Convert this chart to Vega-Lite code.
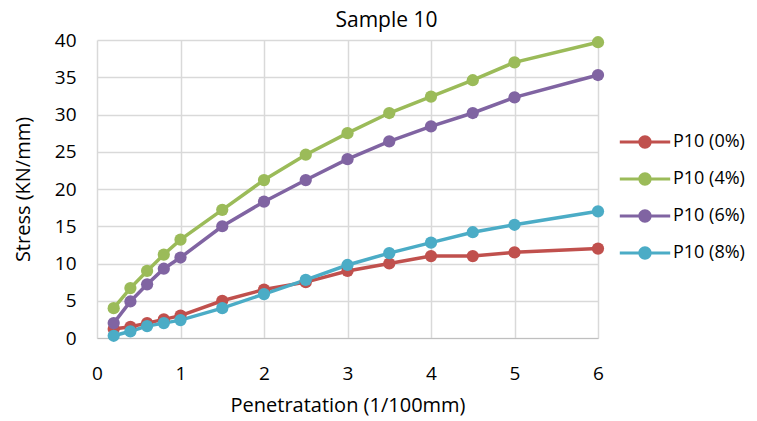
{
  "$schema": "https://vega.github.io/schema/vega-lite/v6.json",
  "width": 501,
  "height": 298,
  "autosize": {"type": "none"},
  "padding": {"left": 97, "top": 40, "right": 159, "bottom": 83},
  "background": "white",
  "title": {"text": "Sample 10", "anchor": "middle", "dx": 39, "offset": 0, "fontSize": 21, "font": "Open Sans", "fontWeight": "normal", "color": "#000000"},
  "data": {"values": [
    {"s": "P10 (0%)", "x": 0.2, "y": 1.2}, {"s": "P10 (0%)", "x": 0.4, "y": 1.5}, {"s": "P10 (0%)", "x": 0.6, "y": 2.0}, {"s": "P10 (0%)", "x": 0.8, "y": 2.5}, {"s": "P10 (0%)", "x": 1, "y": 3.0}, {"s": "P10 (0%)", "x": 1.5, "y": 5.0}, {"s": "P10 (0%)", "x": 2, "y": 6.5}, {"s": "P10 (0%)", "x": 2.5, "y": 7.5}, {"s": "P10 (0%)", "x": 3, "y": 9.0}, {"s": "P10 (0%)", "x": 3.5, "y": 10.0}, {"s": "P10 (0%)", "x": 4, "y": 11.0}, {"s": "P10 (0%)", "x": 4.5, "y": 11.0}, {"s": "P10 (0%)", "x": 5, "y": 11.5}, {"s": "P10 (0%)", "x": 6, "y": 12.0},
    {"s": "P10 (4%)", "x": 0.2, "y": 4.0}, {"s": "P10 (4%)", "x": 0.4, "y": 6.7}, {"s": "P10 (4%)", "x": 0.6, "y": 9.0}, {"s": "P10 (4%)", "x": 0.8, "y": 11.2}, {"s": "P10 (4%)", "x": 1, "y": 13.2}, {"s": "P10 (4%)", "x": 1.5, "y": 17.2}, {"s": "P10 (4%)", "x": 2, "y": 21.2}, {"s": "P10 (4%)", "x": 2.5, "y": 24.6}, {"s": "P10 (4%)", "x": 3, "y": 27.5}, {"s": "P10 (4%)", "x": 3.5, "y": 30.2}, {"s": "P10 (4%)", "x": 4, "y": 32.4}, {"s": "P10 (4%)", "x": 4.5, "y": 34.6}, {"s": "P10 (4%)", "x": 5, "y": 37.0}, {"s": "P10 (4%)", "x": 6, "y": 39.7},
    {"s": "P10 (6%)", "x": 0.2, "y": 2.0}, {"s": "P10 (6%)", "x": 0.4, "y": 4.9}, {"s": "P10 (6%)", "x": 0.6, "y": 7.2}, {"s": "P10 (6%)", "x": 0.8, "y": 9.3}, {"s": "P10 (6%)", "x": 1, "y": 10.8}, {"s": "P10 (6%)", "x": 1.5, "y": 15.0}, {"s": "P10 (6%)", "x": 2, "y": 18.3}, {"s": "P10 (6%)", "x": 2.5, "y": 21.2}, {"s": "P10 (6%)", "x": 3, "y": 24.0}, {"s": "P10 (6%)", "x": 3.5, "y": 26.4}, {"s": "P10 (6%)", "x": 4, "y": 28.4}, {"s": "P10 (6%)", "x": 4.5, "y": 30.2}, {"s": "P10 (6%)", "x": 5, "y": 32.3}, {"s": "P10 (6%)", "x": 6, "y": 35.3},
    {"s": "P10 (8%)", "x": 0.2, "y": 0.3}, {"s": "P10 (8%)", "x": 0.4, "y": 0.9}, {"s": "P10 (8%)", "x": 0.6, "y": 1.6}, {"s": "P10 (8%)", "x": 0.8, "y": 2.0}, {"s": "P10 (8%)", "x": 1, "y": 2.4}, {"s": "P10 (8%)", "x": 1.5, "y": 4.0}, {"s": "P10 (8%)", "x": 2, "y": 5.9}, {"s": "P10 (8%)", "x": 2.5, "y": 7.8}, {"s": "P10 (8%)", "x": 3, "y": 9.8}, {"s": "P10 (8%)", "x": 3.5, "y": 11.4}, {"s": "P10 (8%)", "x": 4, "y": 12.8}, {"s": "P10 (8%)", "x": 4.5, "y": 14.2}, {"s": "P10 (8%)", "x": 5, "y": 15.2}, {"s": "P10 (8%)", "x": 6, "y": 17.0}
  ]},
  "encoding": {
    "x": {"field": "x", "type": "quantitative", "scale": {"domain": [0, 6], "nice": false},
      "axis": {"title": "Penetratation (1/100mm)", "values": [0, 1, 2, 3, 4, 5, 6], "format": "d", "labelOverlap": false, "labelFlush": false, "ticks": false, "labelPadding": 26, "domainColor": "#BFBFBF", "gridColor": "#D9D9D9", "titlePadding": 12}},
    "y": {"field": "y", "type": "quantitative", "scale": {"domain": [0, 40], "nice": false},
      "axis": {"title": "Stress (KN/mm)", "values": [0, 5, 10, 15, 20, 25, 30, 35, 40], "labelOverlap": false, "labelFlush": false, "ticks": false, "labelPadding": 21, "domain": false, "gridColor": "#D9D9D9", "titlePadding": 21}},
    "color": {"field": "s", "type": "nominal",
      "scale": {"domain": ["P10 (0%)", "P10 (4%)", "P10 (6%)", "P10 (8%)"], "range": ["#C0504D", "#9BBB59", "#8064A2", "#4BACC6"]},
      "legend": {"title": null, "orient": "none", "legendX": 530, "legendY": 84, "padding": 0,
        "symbolType": "M-1.4,-0.09 H1.4 V0.09 H-1.4 Z M-0.37,0 A0.37,0.37 0 1,1 0.37,0 A0.37,0.37 0 1,1 -0.37,0 Z",
        "symbolSize": 1296, "symbolStrokeWidth": 0, "labelOffset": 10, "rowPadding": 10, "labelFontSize": 18, "labelFont": "Open Sans", "labelColor": "#000000"}}
  },
  "layer": [
    {"mark": {"type": "line", "strokeWidth": 3.5}},
    {"mark": {"type": "point", "filled": true, "opacity": 1, "size": 150}}
  ],
  "config": {
    "view": {"stroke": null},
    "axis": {"labelFont": "Open Sans", "titleFont": "Open Sans", "labelFontSize": 19, "titleFontSize": 20, "titleFontWeight": "normal", "labelColor": "#000000", "titleColor": "#000000", "gridWidth": 1.5}
  }
}
